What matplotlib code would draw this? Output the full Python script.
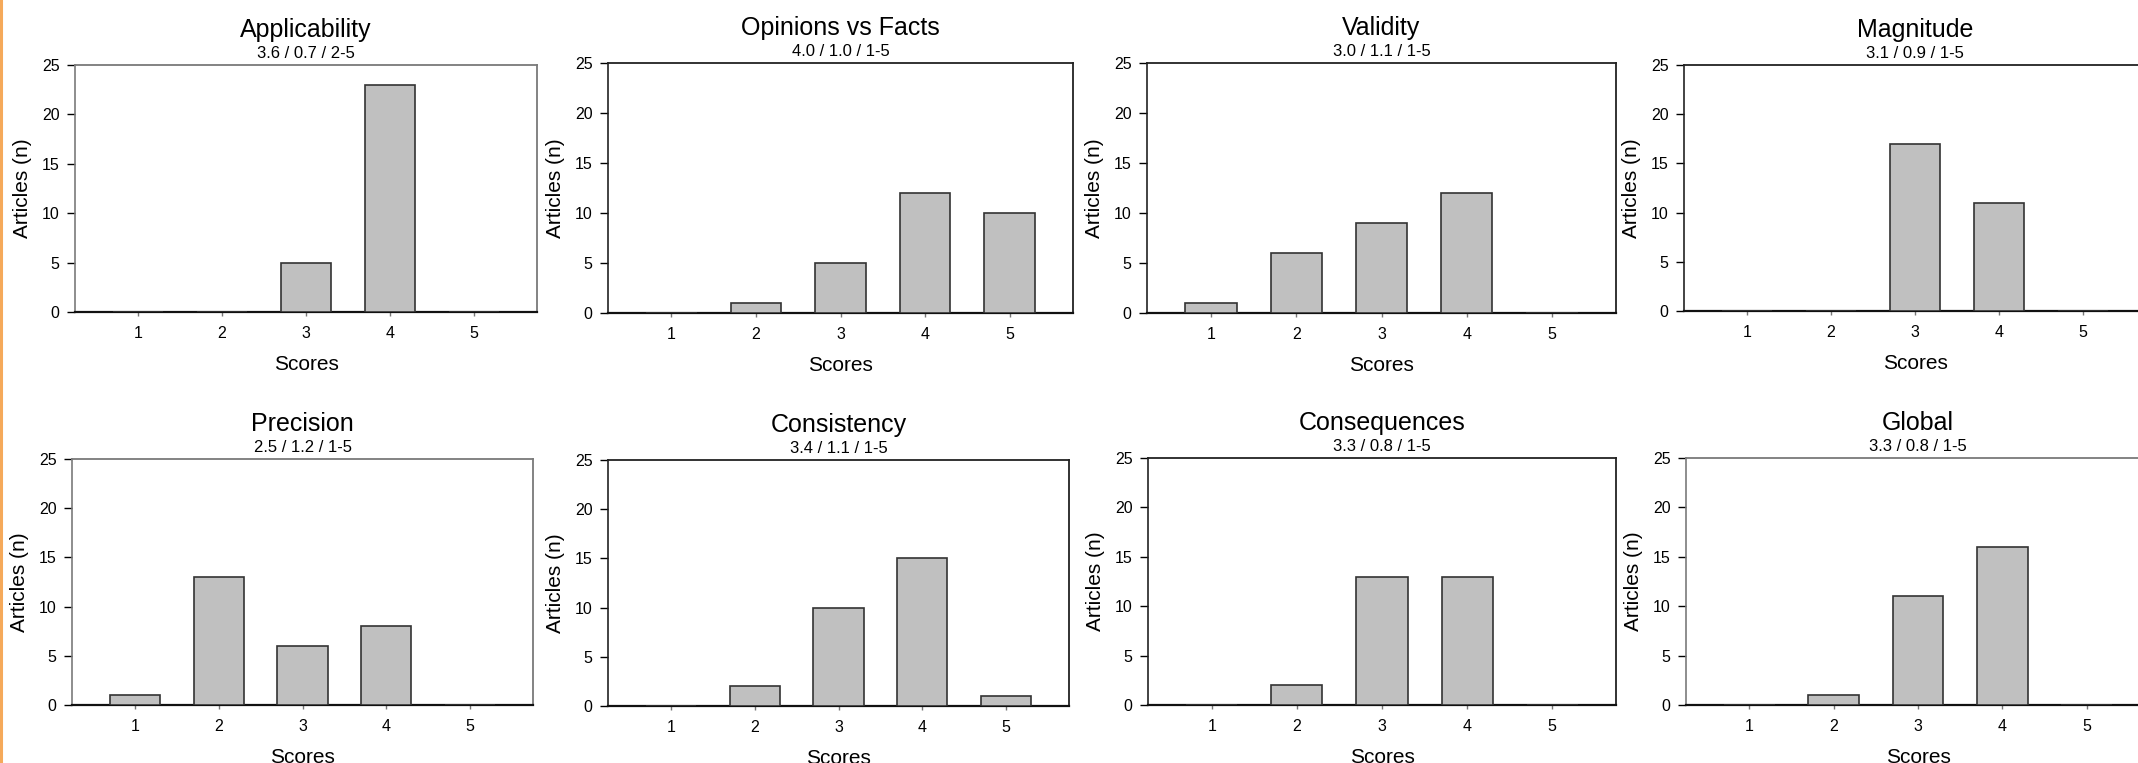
import numpy as np
import matplotlib
matplotlib.use("Agg")
import matplotlib.pyplot as plt
from matplotlib.lines import Line2D

plt.rcParams['font.family'] = ['Liberation Sans', 'DejaVu Sans']

# data
scores = [1, 2, 3, 4, 5]
titles = ["Applicability", "Opinions vs Facts", "Validity", "Magnitude",
          "Precision", "Consistency", "Consequences", "Global"]
stats = ["3.6 / 0.7 / 2-5", "4.0 / 1.0 / 1-5", "3.0 / 1.1 / 1-5", "3.1 / 0.9 / 1-5",
         "2.5 / 1.2 / 1-5", "3.4 / 1.1 / 1-5", "3.3 / 0.8 / 1-5", "3.3 / 0.8 / 1-5"]
applicability = [0, 0, 5, 23, 0]
opinions = [0, 1, 5, 12, 10]
validity = [1, 6, 9, 12, 0]
magnitude = [0, 0, 17, 11, 0]
precision = [1, 13, 6, 8, 0]
consistency = [0, 2, 10, 15, 1]
consequences = [0, 2, 13, 13, 0]
global_ = [0, 1, 11, 16, 0]
counts = [applicability, opinions, validity, magnitude,
          precision, consistency, consequences, global_]
yticks = [0, 5, 10, 15, 20, 25]

W, H = 2138, 763
fig = plt.figure(figsize=(W / 100, H / 100), dpi=100)

# panel boxes in pixels: left, top, right, bottom (right column runs off the page)
boxes = [(75, 65, 537, 312), (608, 63, 1073, 313), (1147, 63, 1616, 313), (1684, 65, 2146, 311),
         (72, 459, 533, 705), (608, 460, 1069, 706), (1148, 458, 1616, 705), (1686, 458, 2150, 705)]
frame_col = ['#7a7a7a', '#222222', '#222222', '#222222',
             '#7a7a7a', '#222222', '#222222', '#7a7a7a']

for i in range(8):
    l, t, r, b = boxes[i]
    ax = fig.add_axes([l / W, 1 - b / H, (r - l) / W, (b - t) / H])
    ax.bar(scores, counts[i], width=0.6, color='#c0c0c0',
           edgecolor='#333333', linewidth=1.2, zorder=3)
    ax.set_xlim(0.25, 5.75)
    ax.set_ylim(0, 25)
    ax.set_xticks(scores)
    ax.set_yticks(yticks)
    for s in ['top', 'right']:
        ax.spines[s].set_color(frame_col[i])
        ax.spines[s].set_linewidth(1.3)
    ax.spines['left'].set_color(frame_col[i])
    ax.spines['left'].set_linewidth(1.2)
    ax.spines['bottom'].set_color('#111111')
    ax.spines['bottom'].set_linewidth(1.6)
    ax.tick_params(axis='y', direction='out', length=6, width=1, pad=5, labelsize=11.5)
    ax.tick_params(axis='x', direction='out', length=3, width=1, color='#777777',
                   pad=7, labelsize=11.5)
    ax.set_ylabel("Articles (n)", fontsize=15, labelpad=7)
    ax.set_xlabel("Scores", fontsize=15, labelpad=10)
    ax.annotate(titles[i], (0.5, 1), xycoords='axes fraction', xytext=(0, 20),
                textcoords='offset points', ha='center', va='baseline', fontsize=18)
    ax.annotate(stats[i], (0.5, 1), xycoords='axes fraction', xytext=(0, 5),
                textcoords='offset points', ha='center', va='baseline', fontsize=12)

# orange strip on the left edge
fig.add_artist(Line2D([1 / W, 1 / W], [0, 1], color='#f5a95a', linewidth=2.2,
                      transform=fig.transFigure))

fig.savefig("out.png", dpi=100)
